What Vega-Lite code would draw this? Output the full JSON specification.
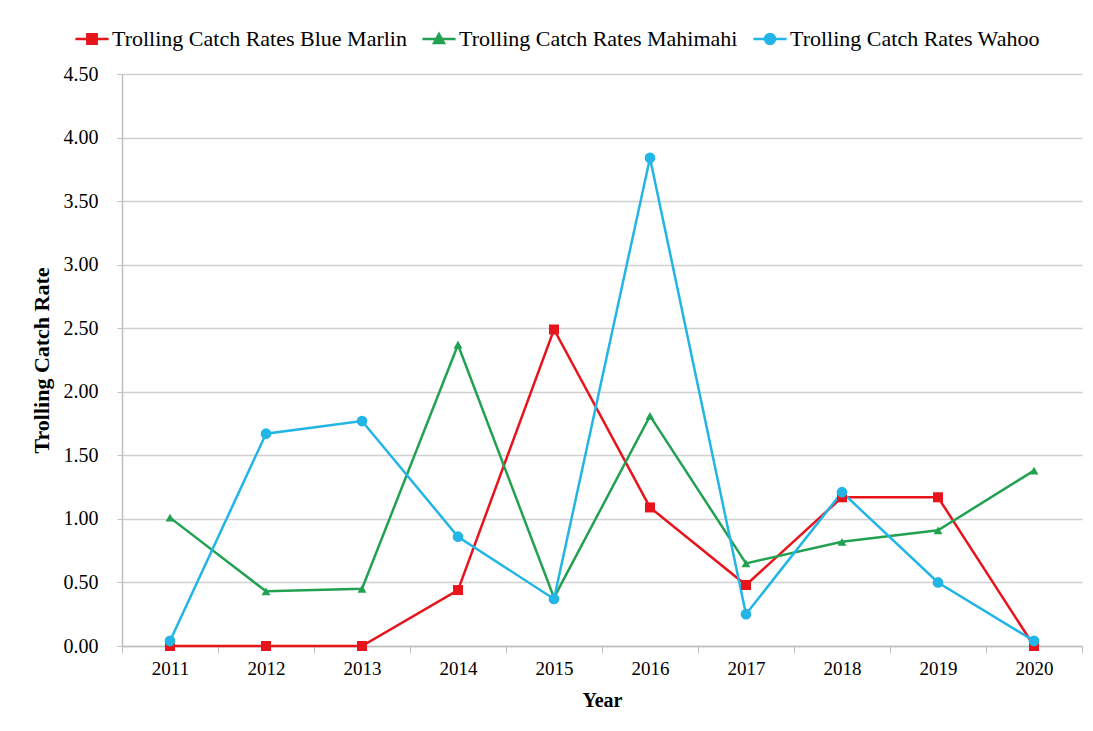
{
  "$schema": "https://vega.github.io/schema/vega-lite/v6.json",
  "width": 960,
  "height": 572,
  "autosize": {"type": "none"},
  "padding": {"left": 122, "top": 74, "right": 11, "bottom": 85},
  "background": "white",
  "config": {
    "font": "Liberation Serif",
    "view": {"stroke": null},
    "axis": {"labelFont": "Liberation Serif", "titleFont": "Liberation Serif", "labelColor": "#000", "titleColor": "#000"},
    "legend": {"labelFont": "Liberation Serif"}
  },
  "data": {
    "values": [
      {"year": "2011", "series": "Trolling Catch Rates Blue Marlin", "value": 0.0},
      {"year": "2012", "series": "Trolling Catch Rates Blue Marlin", "value": 0.0},
      {"year": "2013", "series": "Trolling Catch Rates Blue Marlin", "value": 0.0},
      {"year": "2014", "series": "Trolling Catch Rates Blue Marlin", "value": 0.44},
      {"year": "2015", "series": "Trolling Catch Rates Blue Marlin", "value": 2.49},
      {"year": "2016", "series": "Trolling Catch Rates Blue Marlin", "value": 1.09},
      {"year": "2017", "series": "Trolling Catch Rates Blue Marlin", "value": 0.48},
      {"year": "2018", "series": "Trolling Catch Rates Blue Marlin", "value": 1.17},
      {"year": "2019", "series": "Trolling Catch Rates Blue Marlin", "value": 1.17},
      {"year": "2020", "series": "Trolling Catch Rates Blue Marlin", "value": 0.0},
      {"year": "2011", "series": "Trolling Catch Rates Mahimahi", "value": 1.01},
      {"year": "2012", "series": "Trolling Catch Rates Mahimahi", "value": 0.43},
      {"year": "2013", "series": "Trolling Catch Rates Mahimahi", "value": 0.45},
      {"year": "2014", "series": "Trolling Catch Rates Mahimahi", "value": 2.37},
      {"year": "2015", "series": "Trolling Catch Rates Mahimahi", "value": 0.38},
      {"year": "2016", "series": "Trolling Catch Rates Mahimahi", "value": 1.81},
      {"year": "2017", "series": "Trolling Catch Rates Mahimahi", "value": 0.65},
      {"year": "2018", "series": "Trolling Catch Rates Mahimahi", "value": 0.82},
      {"year": "2019", "series": "Trolling Catch Rates Mahimahi", "value": 0.91},
      {"year": "2020", "series": "Trolling Catch Rates Mahimahi", "value": 1.38},
      {"year": "2011", "series": "Trolling Catch Rates Wahoo", "value": 0.04},
      {"year": "2012", "series": "Trolling Catch Rates Wahoo", "value": 1.67},
      {"year": "2013", "series": "Trolling Catch Rates Wahoo", "value": 1.77},
      {"year": "2014", "series": "Trolling Catch Rates Wahoo", "value": 0.86},
      {"year": "2015", "series": "Trolling Catch Rates Wahoo", "value": 0.37},
      {"year": "2016", "series": "Trolling Catch Rates Wahoo", "value": 3.84},
      {"year": "2017", "series": "Trolling Catch Rates Wahoo", "value": 0.25},
      {"year": "2018", "series": "Trolling Catch Rates Wahoo", "value": 1.21},
      {"year": "2019", "series": "Trolling Catch Rates Wahoo", "value": 0.5},
      {"year": "2020", "series": "Trolling Catch Rates Wahoo", "value": 0.04}
    ]
  },
  "encoding": {
    "x": {
      "field": "year", "type": "ordinal", "bandPosition": 0.5,
      "scale": {"type": "band", "paddingInner": 0, "paddingOuter": 0},
      "axis": {
        "title": "Year", "titleFontSize": 20, "titleFontWeight": "bold", "titlePadding": 12,
        "labelAngle": 0, "labelFontSize": 19, "labelPadding": 6,
        "tickBand": "extent", "tickSize": 7, "tickColor": "#bfbfbf", "domainColor": "#bfbfbf", "domainWidth": 1.5, "grid": false
      }
    },
    "y": {
      "field": "value", "type": "quantitative",
      "scale": {"domain": [0, 4.5], "nice": false},
      "axis": {
        "title": "Trolling Catch Rate", "titleFontSize": 22, "titleFontWeight": "bold", "titlePadding": 10,
        "values": [0, 0.5, 1, 1.5, 2, 2.5, 3, 3.5, 4, 4.5], "format": ".2f",
        "labelFontSize": 20, "labelPadding": 19, "tickSize": 5, "tickColor": "#bfbfbf",
        "domainColor": "#bfbfbf", "domainWidth": 1.5,
        "grid": true, "gridColor": "#d0d0d0", "gridWidth": 1.5
      }
    },
    "color": {
      "field": "series", "type": "nominal",
      "scale": {
        "domain": ["Trolling Catch Rates Blue Marlin", "Trolling Catch Rates Mahimahi", "Trolling Catch Rates Wahoo"],
        "range": ["#e8141c", "#23a153", "#22b5e6"]
      },
      "legend": {
        "orient": "none", "legendX": -48, "legendY": -53, "direction": "horizontal",
        "title": null, "labelFontSize": 22, "labelOffset": 2, "columnPadding": 10, "labelLimit": 0,
        "symbolSize": 1100, "symbolStrokeWidth": 2.5,
        "encode": {
          "symbols": {
            "update": {
              "shape": {"signal": "datum.value === 'Trolling Catch Rates Blue Marlin' ? 'M-1,0H1M-0.28,-0.28H0.28V0.28H-0.28Z' : datum.value === 'Trolling Catch Rates Mahimahi' ? 'M-1,0H1M0,-0.3L0.3,0.24H-0.3Z' : 'M-1,0H1M-0.3,0A0.3,0.3 0 1,0 0.3,0A0.3,0.3 0 1,0 -0.3,0Z'"},
              "fill": {"scale": "color", "field": "value"},
              "stroke": {"scale": "color", "field": "value"}
            }
          }
        }
      }
    }
  },
  "layer": [
    {
      "mark": {"type": "line", "strokeWidth": 2.5}
    },
    {
      "transform": [{"filter": "datum.series === 'Trolling Catch Rates Blue Marlin'"}],
      "mark": {"type": "point", "filled": true, "opacity": 1, "shape": "square", "size": 100}
    },
    {
      "transform": [{"filter": "datum.series === 'Trolling Catch Rates Mahimahi'"}],
      "mark": {"type": "point", "filled": true, "opacity": 1, "shape": "triangle-up", "size": 80}
    },
    {
      "transform": [{"filter": "datum.series === 'Trolling Catch Rates Wahoo'"}],
      "mark": {"type": "point", "filled": true, "opacity": 1, "shape": "circle", "size": 115}
    }
  ]
}
